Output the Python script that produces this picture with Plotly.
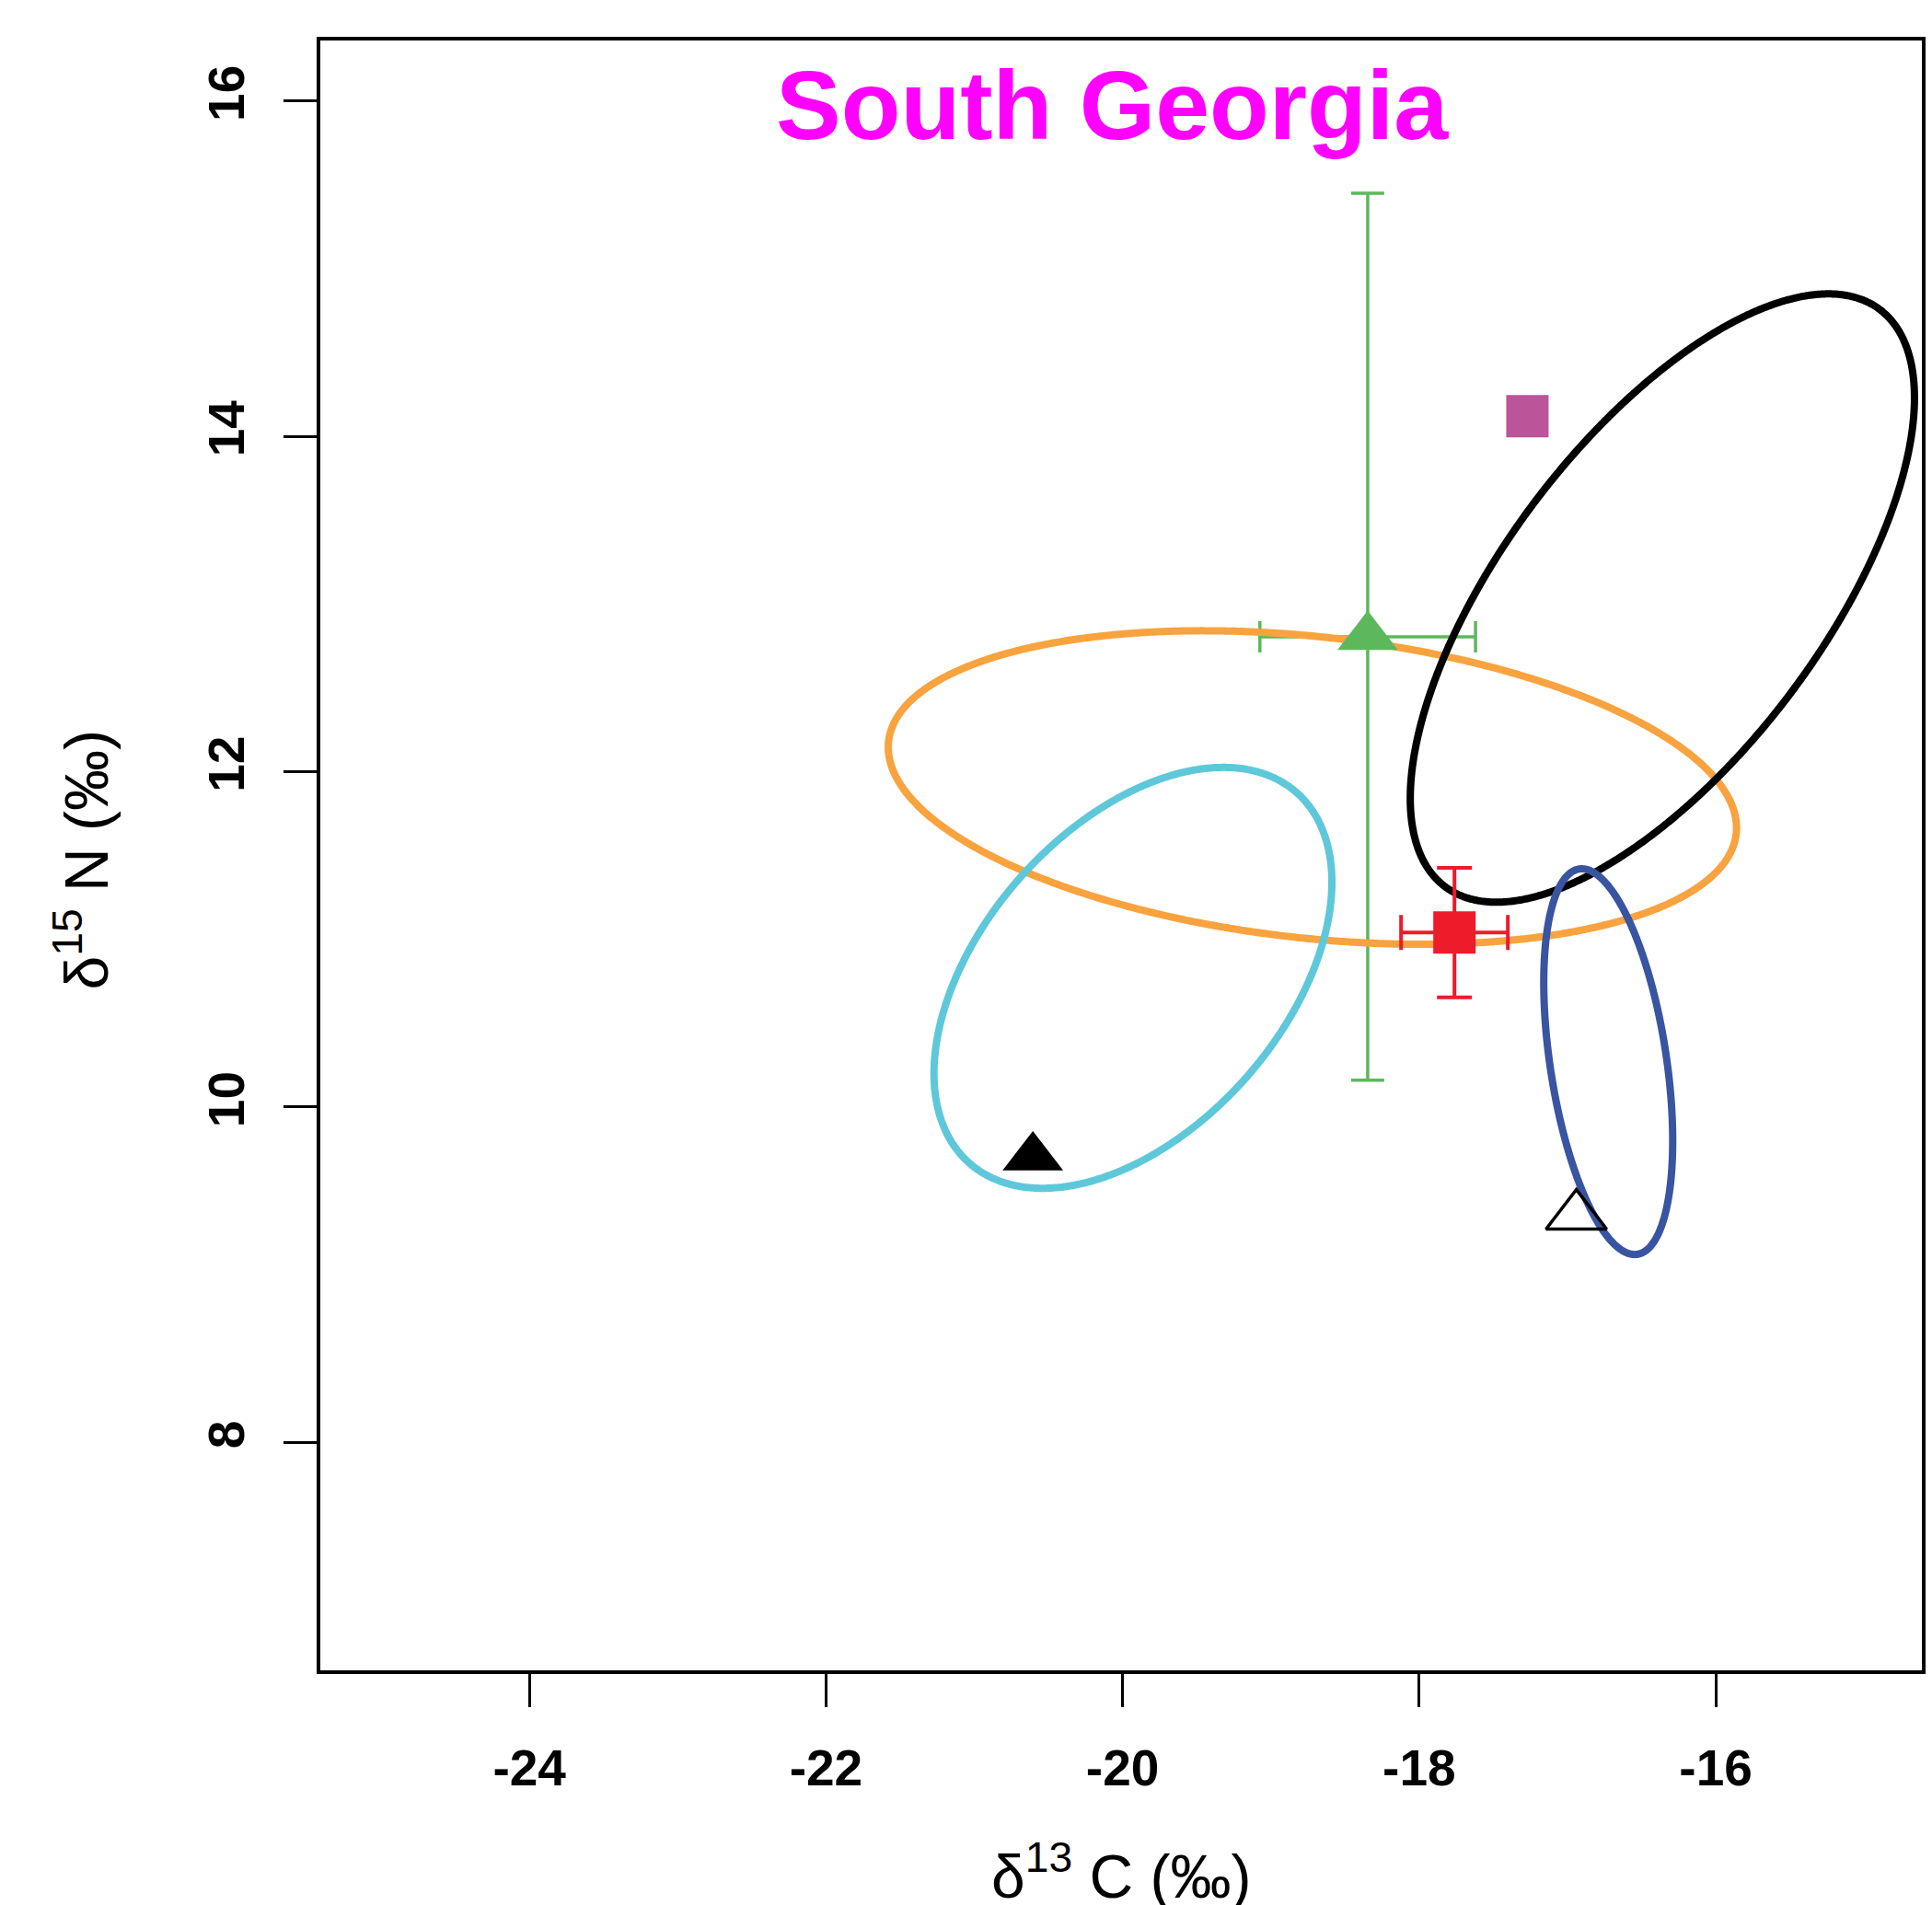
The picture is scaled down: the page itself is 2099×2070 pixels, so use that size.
import numpy as np
import plotly.graph_objects as go

# ---- axes ----
x_ticks = [-24, -22, -20, -18, -16]
x_tick_labels = ["-24", "-22", "-20", "-18", "-16"]
y_ticks = [8, 10, 12, 14, 16]
y_tick_labels = ["8", "10", "12", "14", "16"]
x_range = [-25.41, -14.61]
y_range = [6.64, 16.36]

# ---- standard ellipses: centre and covariance ----
ell_cx = [-18.72, -19.93, -16.36, -16.725]
ell_cy = [11.905, 10.77, 13.035, 10.27]
ell_sxx = [8.18, 1.80, 2.89, 0.189]
ell_sxy = [-0.687, 0.765, 2.03, -0.205]
ell_syy = [0.874, 1.575, 3.29, 1.3225]
ell_colors = ["#F8A33F", "#5EC8DA", "#000000", "#3954A0"]

# ---- points with error bars ----
green_x = [-18.347]
green_y = [12.804]
green_ex = [0.727]
green_ey = [2.645]

red_x = [-17.762]
red_y = [11.04]
red_ex = [0.36]
red_ey = [0.386]

# ---- single points ----
purple_x = [-17.27]
purple_y = [14.12]
blacktri_x = [-20.605]
blacktri_y = [9.70]
opentri_x = [-16.94]
opentri_y = [9.35]

FONT = "Liberation Sans, Arial, Helvetica, sans-serif"
GREEN = "#5CB85B"
RED = "#EE1B2B"

fig = go.Figure()

# green error bars (under the ellipses)
fig.add_trace(go.Scatter(
    x=green_x, y=green_y, mode="markers",
    marker=dict(size=1, color="rgba(0,0,0,0)"),
    error_x=dict(type="data", array=green_ex, color=GREEN, thickness=3.5, width=17),
    error_y=dict(type="data", array=green_ey, color=GREEN, thickness=3.5, width=18),
    showlegend=False, hoverinfo="skip"))

t = np.linspace(0, 2 * np.pi, 721)
for cx, cy, sxx, sxy, syy, col in zip(ell_cx, ell_cy, ell_sxx, ell_sxy, ell_syy, ell_colors):
    cov = np.array([[sxx, sxy], [sxy, syy]])
    L = np.linalg.cholesky(cov)
    pts = L @ np.vstack([np.cos(t), np.sin(t)])
    fig.add_trace(go.Scatter(
        x=cx + pts[0], y=cy + pts[1], mode="lines",
        line=dict(color=col, width=8, simplify=False, shape="spline"),
        showlegend=False, hoverinfo="skip"))

# green triangle
fig.add_trace(go.Scatter(
    x=green_x, y=green_y, mode="markers",
    marker=dict(symbol="triangle-up", size=57, color=GREEN),
    showlegend=False))

# red square with error bars
fig.add_trace(go.Scatter(
    x=red_x, y=red_y, mode="markers",
    marker=dict(symbol="square", size=46, color=RED),
    error_x=dict(type="data", array=red_ex, color=RED, thickness=4, width=19),
    error_y=dict(type="data", array=red_ey, color=RED, thickness=4, width=19),
    showlegend=False))

fig.add_trace(go.Scatter(
    x=purple_x, y=purple_y, mode="markers",
    marker=dict(symbol="square", size=46, color="#BB5499"),
    showlegend=False))

fig.add_trace(go.Scatter(
    x=blacktri_x, y=blacktri_y, mode="markers",
    marker=dict(symbol="triangle-up", size=57, color="#000000"),
    showlegend=False))

fig.add_trace(go.Scatter(
    x=opentri_x, y=opentri_y, mode="markers",
    marker=dict(symbol="triangle-up-open", size=57, color="#000000",
                line=dict(width=3.5, color="#000000")),
    showlegend=False))

axis_common = dict(
    showgrid=False, zeroline=False, showline=True, linecolor="black",
    linewidth=4, mirror=True, ticks="outside", ticklen=36, tickwidth=3,
    tickcolor="black",
    tickfont=dict(family=FONT, size=55, color="black", weight="bold"),
)

fig.update_xaxes(range=x_range, tickmode="array", tickvals=x_ticks,
                 ticktext=x_tick_labels, ticklabelstandoff=19, **axis_common)
fig.update_yaxes(range=y_range, tickmode="array", tickvals=y_ticks,
                 ticktext=y_tick_labels, tickangle=-90, ticklabelstandoff=21,
                 **axis_common)

fig.update_layout(
    width=2099, height=2070,
    margin=dict(l=348, r=7, t=44, b=255, pad=0),
    plot_bgcolor="white", paper_bgcolor="white",
    showlegend=False,
    annotations=[
        dict(text="South Georgia", xref="paper", yref="paper", x=0.4948, y=1,
             yshift=-69.5, xanchor="center", yanchor="middle", showarrow=False,
             font=dict(family=FONT, size=106, color="#FF00FF", weight="bold")),
        dict(text="δ<sup>13</sup> C (‰)", xref="paper", yref="paper", x=0.5, y=0,
             yshift=-219, xanchor="center", yanchor="middle", showarrow=False,
             font=dict(family=FONT, size=66, color="black")),
        dict(text="δ<sup>15</sup> N (‰)", xref="paper", yref="paper", x=0, y=0.5,
             xshift=-259, yshift=-5, xanchor="center", yanchor="middle", showarrow=False,
             textangle=-90,
             font=dict(family=FONT, size=66, color="black")),
    ],
)

fig.write_html("out.html", config={"displayModeBar": False},
               post_script="document.body.style.margin='0';document.body.style.overflow='hidden';")
